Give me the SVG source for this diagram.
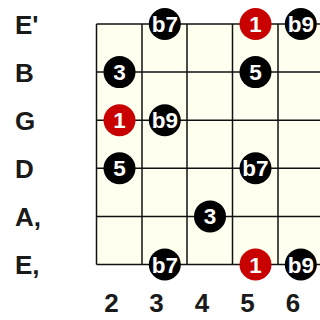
<svg xmlns="http://www.w3.org/2000/svg" width="320" height="320" viewBox="0 0 320 320">
<style>
.lbl{font-family:"Liberation Sans",Arial,sans-serif;font-weight:bold;font-size:26px;fill:#1a1a1a}
.fret{text-anchor:middle}
.grid line{stroke:#111;stroke-width:1.5}
.d{fill:#000}
.r{fill:#c80000}
.t{font-family:"Liberation Sans",Arial,sans-serif;font-weight:bold;font-size:22.5px;fill:#fff;text-anchor:middle}
</style>
<rect width="320" height="320" fill="#fff"/>
<g id="grid" class="grid">
<rect x="96.5" y="24" width="224" height="240.5" fill="#fffff0" stroke="none"/>
<line x1="96.5" y1="24" x2="320" y2="24"/>
<line x1="96.5" y1="72.1" x2="320" y2="72.1"/>
<line x1="96.5" y1="120.2" x2="320" y2="120.2"/>
<line x1="96.5" y1="168.3" x2="320" y2="168.3"/>
<line x1="96.5" y1="216.4" x2="320" y2="216.4"/>
<line x1="96.5" y1="264.5" x2="320" y2="264.5"/>
<line x1="96.5" y1="24" x2="96.5" y2="264.5"/>
<line x1="142" y1="24" x2="142" y2="264.5"/>
<line x1="187" y1="24" x2="187" y2="264.5"/>
<line x1="232.5" y1="24" x2="232.5" y2="264.5"/>
<line x1="278" y1="24" x2="278" y2="264.5"/>
</g>
<g id="string-labels" class="lbl">
<text x="15" y="34">E'</text>
<text x="15" y="82">B</text>
<text x="15" y="130">G</text>
<text x="15" y="178">D</text>
<text x="15" y="226">A,</text>
<text x="15" y="274">E,</text>
</g>
<g id="fret-labels" class="lbl fret">
<text x="111.5" y="312">2</text>
<text x="156.5" y="312">3</text>
<text x="202" y="312">4</text>
<text x="247.5" y="312">5</text>
<text x="293" y="312">6</text>
</g>
<g id="n-e1-b7"><circle class="d" cx="164.8" cy="24" r="16"/><text class="t" x="164.8" y="32">b7</text></g>
<g id="n-e1-1"><circle class="r" cx="255.5" cy="24" r="16"/><text class="t" x="255.5" y="32">1</text></g>
<g id="n-e1-b9"><circle class="d" cx="300.8" cy="24" r="16"/><text class="t" x="300.8" y="32">b9</text></g>
<g id="n-b-3"><circle class="d" cx="119.5" cy="72.1" r="16"/><text class="t" x="119.5" y="80.1">3</text></g>
<g id="n-b-5"><circle class="d" cx="255.5" cy="72.1" r="16"/><text class="t" x="255.5" y="80.1">5</text></g>
<g id="n-g-1"><circle class="r" cx="119.5" cy="120.2" r="16"/><text class="t" x="119.5" y="128.2">1</text></g>
<g id="n-g-b9"><circle class="d" cx="164.8" cy="120.2" r="16"/><text class="t" x="164.8" y="128.2">b9</text></g>
<g id="n-d-5"><circle class="d" cx="119.5" cy="168.3" r="16"/><text class="t" x="119.5" y="176.3">5</text></g>
<g id="n-d-b7"><circle class="d" cx="255.5" cy="168.3" r="16"/><text class="t" x="255.5" y="176.3">b7</text></g>
<g id="n-a-3"><circle class="d" cx="210" cy="216.4" r="16"/><text class="t" x="210" y="224.4">3</text></g>
<g id="n-e6-b7"><circle class="d" cx="164.8" cy="264.5" r="16"/><text class="t" x="164.8" y="272.5">b7</text></g>
<g id="n-e6-1"><circle class="r" cx="255.5" cy="264.5" r="16"/><text class="t" x="255.5" y="272.5">1</text></g>
<g id="n-e6-b9"><circle class="d" cx="300.8" cy="264.5" r="16"/><text class="t" x="300.8" y="272.5">b9</text></g>
</svg>
